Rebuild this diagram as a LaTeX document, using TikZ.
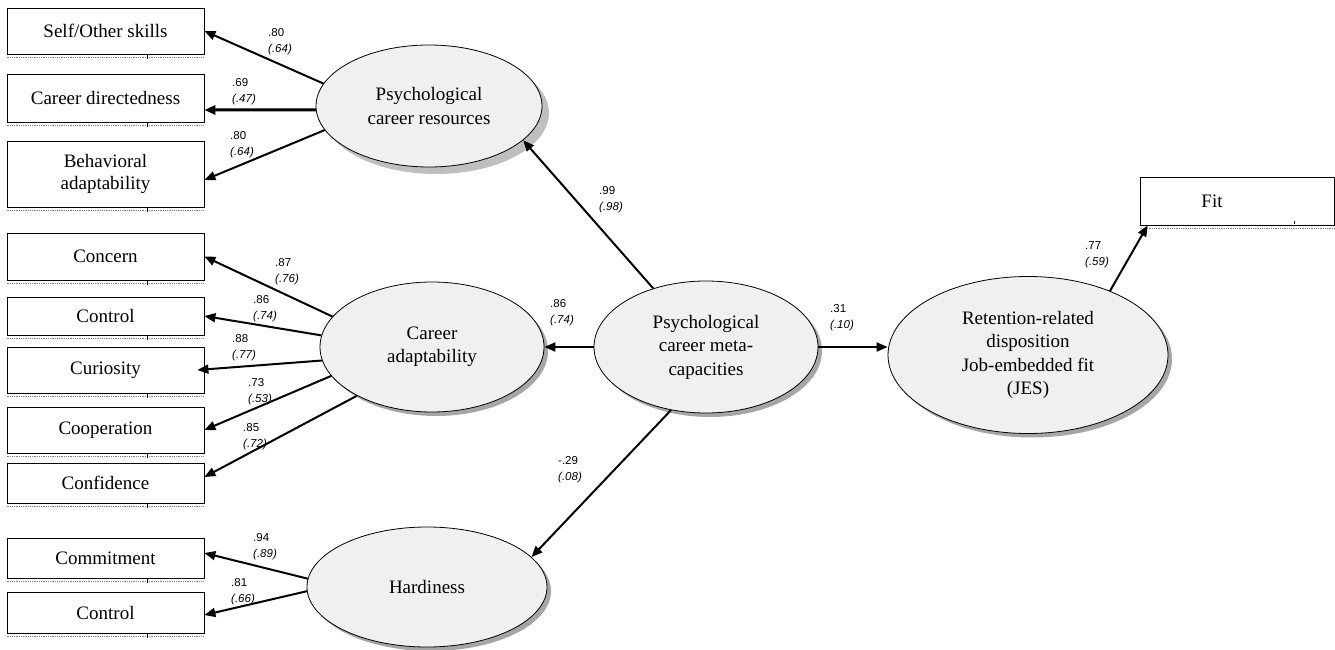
\documentclass[tikz,border=0pt]{standalone}
\usepackage{fontspec}
\setmainfont{Liberation Serif}
\newfontfamily\lblfont{Liberation Sans}
\usetikzlibrary{arrows.meta,shadows,shapes.geometric}
\begin{document}
\begin{tikzpicture}[x=1pt,y=-1pt,
  ind/.style={draw=black, line width=0.8pt, minimum width=197pt, inner sep=0pt,
    font=\fontsize{19}{22}\selectfont, align=center},
  lat/.style={ellipse, draw=black, line width=0.8pt, fill=gray!12,
    font=\fontsize{19}{23.5}\selectfont, align=center, inner sep=0pt,
    general shadow={fill=gray!70, shadow xshift=4pt, shadow yshift=-4pt}},
  bigshadow/.style={general shadow={fill=gray!50, shadow xshift=7pt, shadow yshift=-7pt}},
  conn/.style={line width=2pt, -{Triangle[length=11pt,width=9pt]}},
  coef/.style={font=\lblfont\fontsize{11.5}{15.5}\selectfont, align=left, anchor=west, inner sep=0pt},
  dots/.style={gray, densely dotted, line width=0.8pt}
]
\useasboundingbox (0,0) rectangle (1335,650);

% indicator boxes
\node[ind, minimum height=46pt] (self) at (105.5,31) {Self/Other skills};
\node[ind, minimum height=48pt] (cd) at (105.5,98) {Career directedness};
\node[ind, minimum height=66pt] (ba) at (105.5,174) {Behavioral\\adaptability};
\node[ind, minimum height=47pt] (concern) at (105.5,256.5) {Concern};
\node[ind, minimum height=38pt] (ctrl) at (105.5,316) {Control};
\node[ind, minimum height=46pt] (cur) at (105.5,370) {Curiosity};
\node[ind, minimum height=46pt] (coop) at (105.5,430) {Cooperation};
\node[ind, minimum height=40pt] (conf) at (105.5,483) {Confidence};
\node[ind, minimum height=40pt] (commit) at (105.5,558) {Commitment};
\node[ind, minimum height=41pt] (ctrlh) at (105.5,612.5) {Control};
\node[ind, minimum width=194pt, minimum height=48pt] (fit) at (1237,201) {};
\node[font=\fontsize{19}{22}\selectfont, inner sep=0pt] (fittext) at (1212,201) {Fit};

\foreach \n in {self,cd,ba,concern,ctrl,cur,coop,conf,commit,ctrlh}{
  \draw[dots] ([yshift=-3pt]\n.south west) -- ([yshift=-3pt]\n.south east);
  \draw[black, line width=0.6pt] ([xshift=141pt,yshift=-1pt]\n.south west) -- ([xshift=141pt,yshift=-5pt]\n.south west);
}
\draw[dots] ([yshift=-3pt]fit.south west) -- ([yshift=-3pt]fit.south east);
\draw[black, line width=0.6pt] ([xshift=155pt,yshift=4pt]fit.south west) -- ([xshift=155pt,yshift=1pt]fit.south west);

% latent variables
\node[lat, bigshadow, minimum width=226pt, minimum height=122pt] (pcr) at (429,106) {Psychological\\career resources};
\node[lat, minimum width=224pt, minimum height=130pt] (ca) at (432,347) {Career\\adaptability};
\node[lat, minimum width=224pt, minimum height=132pt] (meta) at (706,347) {Psychological\\career meta-\\capacities};
\node[lat, minimum width=280pt, minimum height=157pt] (ret) at (1028,355) {Retention-related\\disposition\\Job-embedded fit\\(JES)};
\node[lat, minimum width=240pt, minimum height=120pt] (hard) at (427,587) {Hardiness};

% connectors
\draw[conn] (pcr.168) -- (self.east);
\draw[conn, line width=3pt] (pcr.182) -- ([yshift=-12pt]cd.east);
\draw[conn] (pcr.193) -- ([yshift=-6pt]ba.east);
\draw[conn] (ca.163.5) -- (concern.east);
\draw[conn] (ca.174) -- (ctrl.east);
\draw[conn] (ca.187) -- ([xshift=-7pt]cur.east);
\draw[conn] (ca.196) -- (coop.east);
\draw[conn] (ca.213) -- ([yshift=6pt]conf.east);
\draw[conn] (hard.176) -- ([yshift=5pt]commit.east);
\draw[conn] (hard.182) -- ([yshift=-2.5pt]ctrlh.east);
\draw[conn] (meta.132.5) -- (pcr.340);
\draw[conn] (meta.west) -- (ca.east);
\draw[conn] (meta.east) -- (meta.east -| ret.west);
\draw[conn] (meta.241) -- (hard.16);
\draw[conn] (ret.38) -- ([xshift=8pt]fit.south west);

% coefficients
\node[coef] (l1) at (268,41.5) {.80\\\textit{(.64)}};
\node[coef] (l2) at (232,91.5) {.69\\\textit{(.47)}};
\node[coef] (l3) at (230,144.5) {.80\\\textit{(.64)}};
\node[coef] (l4) at (275,271.5) {.87\\\textit{(.76)}};
\node[coef] (l5) at (253,308.5) {.86\\\textit{(.74)}};
\node[coef] (l6) at (232,347.5) {.88\\\textit{(.77)}};
\node[coef] (l7) at (248,391.5) {.73\\\textit{(.53)}};
\node[coef] (l8) at (243,436.5) {.85\\\textit{(.72)}};
\node[coef] (l9) at (253,546.5) {.94\\\textit{(.89)}};
\node[coef] (l10) at (231,591.5) {.81\\\textit{(.66)}};
\node[coef] (l11) at (599,199.5) {.99\\\textit{(.98)}};
\node[coef] (l12) at (550,312.5) {.86\\\textit{(.74)}};
\node[coef] (l13) at (830,317.5) {.31\\\textit{(.10)}};
\node[coef] (l14) at (1085,254.5) {.77\\\textit{(.59)}};
\node[coef] (l15) at (558,469.5) {-.29\\\textit{(.08)}};
\end{tikzpicture}
\end{document}
